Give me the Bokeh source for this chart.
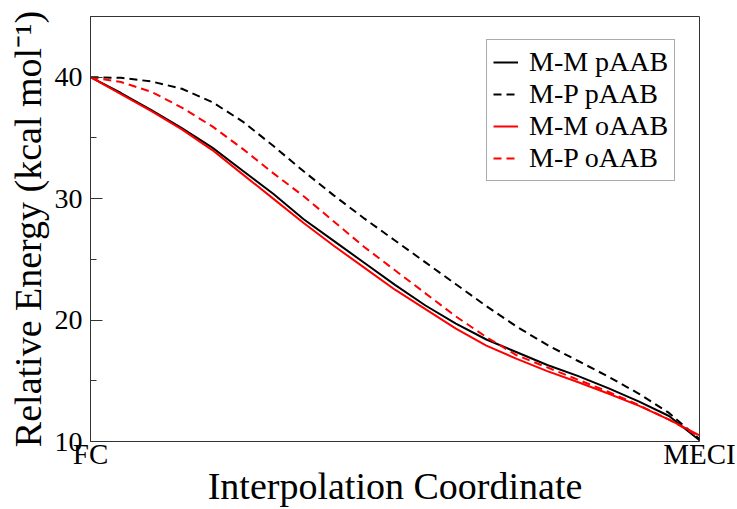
from bokeh.plotting import figure
from bokeh.models import Range1d, FixedTicker, SingleIntervalTicker, Legend, LegendItem
from bokeh.embed import file_html
from bokeh.resources import INLINE

# ---- data ----
coord = [0.0, 0.05, 0.10, 0.15, 0.20, 0.25, 0.30, 0.35, 0.40, 0.45, 0.50,
         0.55, 0.60, 0.65, 0.70, 0.75, 0.80, 0.85, 0.90, 0.95, 1.0]
mm_paab = [40.0, 38.7, 37.3, 35.8, 34.2, 32.3, 30.4, 28.3, 26.5, 24.7, 22.9,
           21.2, 19.7, 18.4, 17.35, 16.3, 15.4, 14.4, 13.3, 12.1, 10.1]
mp_paab = [40.0, 39.95, 39.65, 39.05, 37.95, 36.35, 34.35, 32.25, 30.25, 28.35, 26.55,
           24.75, 22.95, 21.15, 19.45, 17.95, 16.65, 15.35, 13.95, 12.35, 10.2]
mm_oaab = [40.0, 38.6, 37.2, 35.7, 34.0, 32.0, 30.0, 28.0, 26.1, 24.3, 22.5,
           20.9, 19.3, 17.9, 16.8, 15.8, 14.9, 13.95, 12.95, 11.8, 10.5]
mp_oaab = [40.0, 39.6, 38.8, 37.5, 35.95, 34.1, 32.1, 30.2, 28.1, 26.0, 24.1,
           22.2, 20.3, 18.6, 17.1, 16.1, 15.1, 14.1, 13.0, 11.8, 10.4]
series_names = ["M-M pAAB", "M-P pAAB", "M-M oAAB", "M-P oAAB"]
x_tick_values = [0, 1]
x_tick_labels = ["FC", "MECI"]
x_title = "Interpolation Coordinate"
y_title = "Relative Energy (kcal mol\u207b\u00b9)"

FONT = "Liberation Serif"
W, H = 737, 509
BL, BR, BT, BB = 90, 38, 16, 66
FW, FH = W - BL - BR, H - BT - BB

p = figure(width=W, height=H, output_backend="svg", toolbar_location=None,
           x_range=Range1d(0, 1), y_range=Range1d(10, 45),
           min_border_left=BL, min_border_right=BR, min_border_top=BT,
           min_border_bottom=BB)
p.xgrid.visible = False
p.ygrid.visible = False
p.outline_line_color = "#333333"
p.outline_line_width = 1
p.background_fill_color = "white"
p.border_fill_color = "white"

# y axis
p.yaxis.ticker = SingleIntervalTicker(interval=10, num_minor_ticks=2)
p.yaxis.major_tick_in = 12
p.yaxis.major_tick_out = 0
p.yaxis.minor_tick_in = 6
p.yaxis.minor_tick_out = 0
p.yaxis.axis_line_color = "#333333"
p.yaxis.major_tick_line_color = "#333333"
p.yaxis.minor_tick_line_color = "#333333"
p.yaxis.major_label_text_font = FONT
p.yaxis.major_label_text_font_size = "28px"
p.yaxis.major_label_text_color = "black"
p.yaxis.major_label_standoff = 8
p.yaxis.axis_label = y_title
p.yaxis.axis_label_text_font = FONT
p.yaxis.axis_label_text_font_size = "38px"
p.yaxis.axis_label_text_font_style = "normal"
p.yaxis.axis_label_text_color = "black"
p.yaxis.axis_label_standoff = 3

# x axis
p.xaxis.ticker = FixedTicker(ticks=x_tick_values)
p.xaxis.major_label_overrides = {float(v): t for v, t in zip(x_tick_values, x_tick_labels)}
p.xaxis.major_tick_line_color = None
p.xaxis.minor_tick_line_color = None
p.xaxis.major_tick_out = 0
p.xaxis.major_tick_in = 0
p.xaxis.axis_line_color = "#333333"
p.xaxis.major_label_text_font = FONT
p.xaxis.major_label_text_font_size = "29px"
p.xaxis.major_label_text_color = "black"
p.xaxis.major_label_standoff = -4
p.xaxis.axis_label = x_title
p.xaxis.axis_label_text_font = FONT
p.xaxis.axis_label_text_font_size = "38px"
p.xaxis.axis_label_text_font_style = "normal"
p.xaxis.axis_label_text_color = "black"
p.xaxis.axis_label_standoff = -8

r1 = p.line(coord, mm_paab, line_color="black", line_width=2)
r2 = p.line(coord, mp_paab, line_color="black", line_width=2, line_dash="8 5")
r3 = p.line(coord, mm_oaab, line_color="red", line_width=2)
r4 = p.line(coord, mp_oaab, line_color="red", line_width=2, line_dash="8 5")

LEG_H = 139
legend = Legend(items=[LegendItem(label=n, renderers=[r]) for n, r in
                       zip(series_names, [r1, r2, r3, r4])],
                location=(396, FH - 28 - LEG_H))
legend.border_line_color = "#555555"
legend.border_line_width = 1
legend.background_fill_color = "white"
legend.background_fill_alpha = 1
legend.label_text_font = FONT
legend.label_text_font_size = "28px"
legend.label_text_color = "black"
legend.glyph_width = 25
legend.glyph_height = 28
legend.label_height = 28
legend.label_standoff = 11
legend.spacing = 0
legend.padding = 6
legend.margin = 0
p.add_layout(legend)

open("out.html", "w").write(file_html(p, INLINE))
